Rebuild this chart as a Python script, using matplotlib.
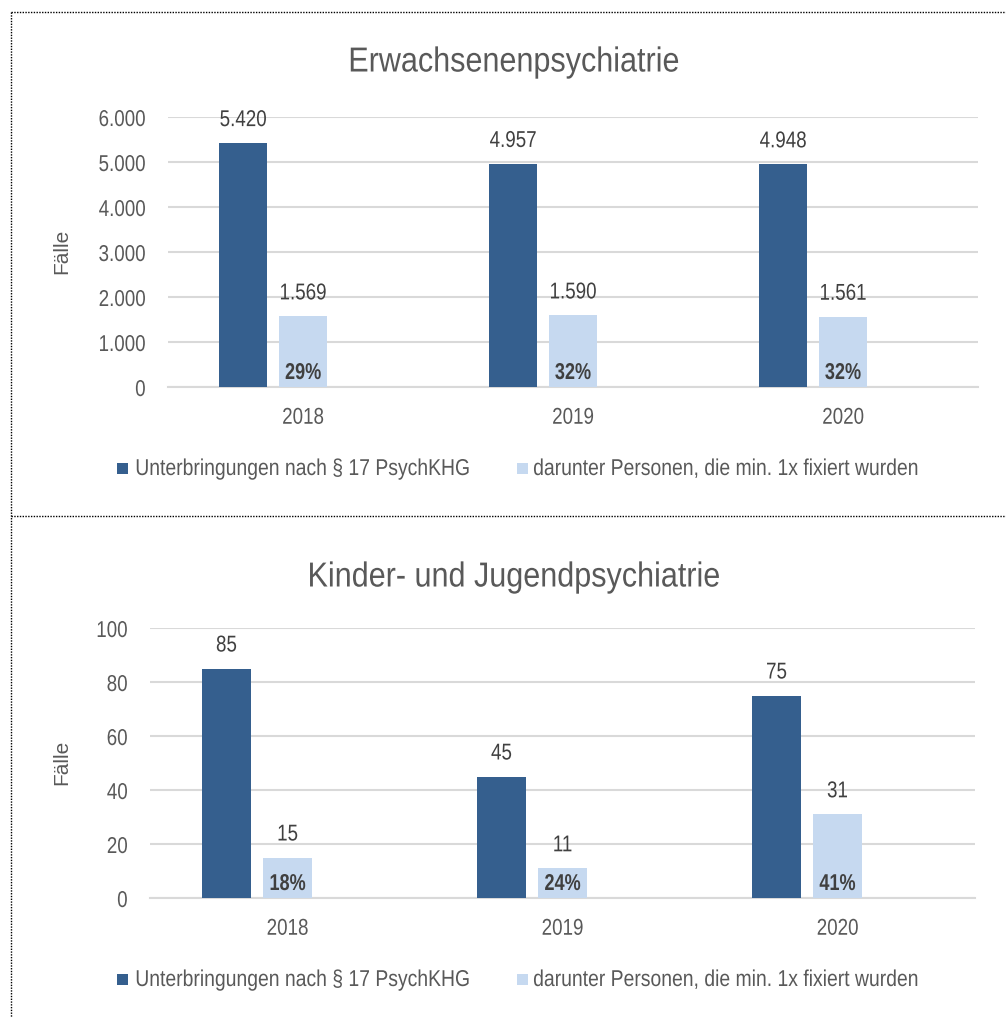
import matplotlib
matplotlib.use("Agg")
import matplotlib.pyplot as plt
from matplotlib.lines import Line2D
from matplotlib.patches import Rectangle
from matplotlib.patheffects import AbstractPathEffect
from matplotlib.transforms import Affine2D

# Data
years = ["2018", "2019", "2020"]
adult_total = [5420, 4957, 4948]
adult_fixed = [1569, 1590, 1561]
child_total = [85, 45, 75]
child_fixed = [15, 11, 31]

series_names = ["Unterbringungen nach § 17 PsychKHG",
                "darunter Personen, die min. 1x fixiert wurden"]
titles = ["Erwachsenenpsychiatrie", "Kinder- und Jugendpsychiatrie"]
y_label = "Fälle"

DARK = "#355F8E"
LIGHT = "#C6D9F0"
GRID = "#D9D9D9"
TXT = "#595959"
LBL = "#404040"

plt.rcParams["font.family"] = ["Liberation Sans", "DejaVu Sans"]

W, H = 1006, 1018
fig = plt.figure(figsize=(W / 100, H / 100), dpi=100)


def fx(px):
    return px / W


def fy(py):
    return 1 - py / H


class Condense(AbstractPathEffect):
    """Squeeze a text path horizontally (narrow typeface look)."""

    def __init__(self, sx, anchor="center"):
        super().__init__()
        self.sx = sx
        self.anchor = anchor

    def draw_path(self, renderer, gc, tpath, affine, rgbFace=None):
        ext = tpath.get_extents()
        if self.anchor == "right":
            cx = ext.x1
        elif self.anchor == "left":
            cx = ext.x0
        else:
            cx = (ext.x0 + ext.x1) / 2
        t = Affine2D().translate(-cx, 0).scale(self.sx, 1).translate(cx, 0) + affine
        renderer.draw_path(gc, tpath, t, rgbFace)


FS = 16.5
NARROW = 0.82


def fmt_de(v):
    return f"{v:,.0f}".replace(",", ".")


def panel(px_rect, totals, fixed, ymax, ystep, title, title_y, ylab_y, legend_base):
    x0, y0, x1, y1 = px_rect
    ax = fig.add_axes([fx(x0), fy(y1), (x1 - x0) / W, (y1 - y0) / H])
    x = list(range(len(years)))
    bw = 0.178
    step = 0.222
    xd = [i - step for i in x]
    xl = list(x)
    ax.bar(xd, totals, width=bw, color=DARK, zorder=3)
    ax.bar(xl, fixed, width=bw, color=LIGHT, zorder=3)

    for xi, v in list(zip(xd, totals)) + list(zip(xl, fixed)):
        ax.annotate(fmt_de(v), (xi, v), xytext=(0, 17), textcoords="offset pixels",
                    ha="center", va="baseline", fontsize=FS, color=LBL,
                    path_effects=[Condense(NARROW)], annotation_clip=False)
    for xi, v, t in zip(xl, fixed, totals):
        ax.annotate(f"{round(v / t * 100):d}%", (xi, 0), xytext=(0, 8),
                    textcoords="offset pixels", ha="center", va="baseline",
                    fontsize=FS, color=LBL, fontweight="bold", zorder=4,
                    path_effects=[Condense(0.79)])

    ax.set_xlim(-0.5, len(years) - 0.5)
    ax.set_ylim(0, ymax)
    ticks = list(range(0, ymax + 1, ystep))
    ax.set_yticks(ticks)
    ax.set_yticklabels([fmt_de(t) for t in ticks])
    ax.set_xticks(x)
    ax.set_xticklabels(years)
    ax.tick_params(axis="both", length=0, labelsize=FS, labelcolor=TXT)
    ax.tick_params(axis="y", pad=16)
    ax.tick_params(axis="x", pad=13.5)
    for tk in ax.yaxis.get_major_ticks():
        tk.label1.set_path_effects([Condense(NARROW, "right")])
    for tk in ax.xaxis.get_major_ticks():
        tk.label1.set_path_effects([Condense(NARROW)])
    ax.grid(axis="y", color=GRID, linewidth=1.5, zorder=0)
    for s in ["top", "right", "left"]:
        ax.spines[s].set_visible(False)
    ax.spines["bottom"].set_color(GRID)
    ax.spines["bottom"].set_linewidth(1.5)

    fig.text(fx(62), fy(ylab_y), y_label, rotation=90, ha="center", va="center",
             fontsize=15, color=TXT)
    fig.text(fx(514), fy(title_y), title, ha="center", va="center",
             fontsize=25, color=TXT, path_effects=[Condense(0.88)])

    # Legend row
    for (sq_x, txt_x), col, name in zip([(117, 135), (517, 533)], [DARK, LIGHT], series_names):
        fig.add_artist(Rectangle((fx(sq_x), fy(legend_base - 1)), 11 / W, 11 / H,
                                 transform=fig.transFigure, color=col, lw=0))
        fig.text(fx(txt_x), fy(legend_base), name, ha="left", va="baseline",
                 fontsize=FS, color=TXT, path_effects=[Condense(0.845, "left")])
    return ax


panel((168, 117, 978, 387), adult_total, adult_fixed, 6000, 1000,
      titles[0], 62, 251, 475)
panel((150, 628, 975, 898), child_total, child_fixed, 100, 20,
      titles[1], 577, 762, 986)

# Dotted frame lines around the two panels
dot = dict(color="black", linewidth=1.0, linestyle=(0, (1, 1)))
fig.add_artist(Line2D([fx(11), 1], [fy(12), fy(12)], transform=fig.transFigure, **dot))
fig.add_artist(Line2D([fx(11), fx(11)], [fy(12), 0], transform=fig.transFigure, **dot))
fig.add_artist(Line2D([fx(11), 1], [fy(516), fy(516)], transform=fig.transFigure, **dot))

fig.savefig("out.png", dpi=100)
